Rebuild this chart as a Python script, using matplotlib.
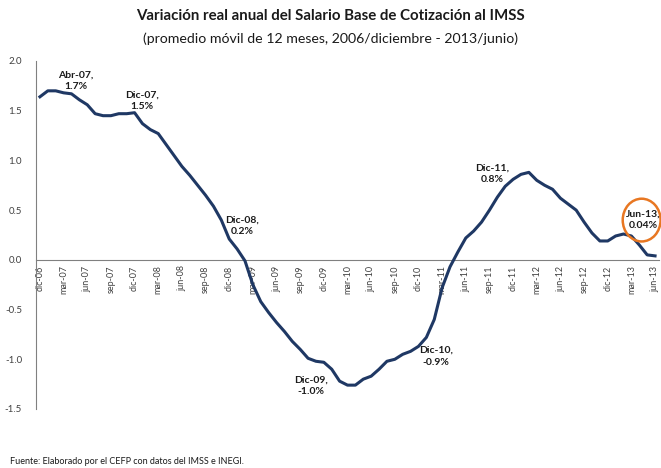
import matplotlib
matplotlib.use("Agg")
import matplotlib.pyplot as plt
from matplotlib.patches import Ellipse

plt.rcParams['font.family'] = ['Lato', 'DejaVu Sans']

# ---- data ----
months = ["dic", "ene", "feb", "mar", "abr", "may", "jun", "jul", "ago", "sep", "oct", "nov"]
start_year = 6
values = [1.64, 1.70, 1.70, 1.68, 1.67, 1.61, 1.56, 1.47, 1.45, 1.45, 1.47, 1.47,
          1.48, 1.37, 1.31, 1.27, 1.16, 1.05, 0.94, 0.85, 0.75, 0.65, 0.54, 0.40,
          0.21, 0.11, -0.01, -0.25, -0.42, -0.53, -0.63, -0.72, -0.82, -0.90, -0.99, -1.02,
          -1.03, -1.10, -1.22, -1.26, -1.26, -1.20, -1.17, -1.10, -1.02, -1.00, -0.95, -0.92,
          -0.87, -0.78, -0.60, -0.28, -0.07, 0.08, 0.22, 0.29, 0.38, 0.50, 0.63, 0.74,
          0.81, 0.86, 0.88, 0.80, 0.75, 0.71, 0.62, 0.56, 0.50, 0.38, 0.27, 0.19,
          0.19, 0.24, 0.26, 0.24, 0.15, 0.05, 0.04]

def label_for(i):
    m = months[i % 12]
    yr = start_year + (i + 11) // 12
    return f"{m}-{yr:02d}"

tick_idx = list(range(0, len(values), 3))
tick_labels = [label_for(i) for i in tick_idx]

y_ticks = [2.0, 1.5, 1.0, 0.5, 0.0, -0.5, -1.0, -1.5]

annotations = [
    (4, "Abr-07,\n1.7%"),
    (12, "Dic-07,\n1.5%"),
    (24, "Dic-08,\n0.2%"),
    (36, "Dic-09,\n-1.0%"),
    (48, "Dic-10,\n-0.9%"),
    (60, "Dic-11,\n0.8%"),
    (78, "Jun-13,\n0.04%"),
]
# label centre positions (data coords)
ann_pos = [(4.5, 1.80), (12.9, 1.60), (25.6, 0.34), (34.4, -1.27),
           (50.2, -0.97), (57.4, 0.87), (76.5, 0.40)]

# ---- figure ----
fig = plt.figure(figsize=(6.61, 4.68), dpi=100)
ax = fig.add_axes([36/661, 1-409/468, (659-36)/661, (409-61)/468])

x = list(range(len(values)))
ax.plot(x, values, color="#1F3864", lw=2.2, zorder=3, solid_joinstyle='round')

ax.set_xlim(-0.5, len(values) - 0.5)
ax.set_ylim(-1.5, 2.0)
ax.set_yticks(y_ticks)
ax.set_yticklabels([f"{v:.1f}" for v in y_ticks], fontsize=7, color="#404040")

ax.spines['top'].set_visible(False)
ax.spines['right'].set_visible(False)
ax.spines['left'].set_color("#808080")
ax.spines['left'].set_linewidth(0.8)
ax.spines['bottom'].set_position(('data', 0))
ax.spines['bottom'].set_color("#808080")
ax.spines['bottom'].set_linewidth(0.8)

ax.set_xticks(tick_idx)
ax.set_xticklabels(tick_labels, rotation=90, fontsize=6.5, color="#404040")
ax.tick_params(axis='x', length=0, pad=4)
ax.tick_params(axis='y', length=0, pad=10)

for (idx, txt), (px, py) in zip(annotations, ann_pos):
    ax.text(px, py, txt, ha='center', va='center', fontsize=7.5,
            fontweight='bold', color="#1a1a1a", linespacing=1.35, zorder=4)

# orange circle around last label
ell = Ellipse((76.3, 0.40), width=4.8, height=0.43, fill=False,
              edgecolor="#E87722", lw=1.8, zorder=5, clip_on=False)
ax.add_patch(ell)

fig.text(0.5, 1-16.5/468, "Variación real anual del Salario Base de Cotización al IMSS",
         ha='center', va='center', fontsize=10.8, fontweight='bold', color="#1a1a1a")
fig.text(0.5, 1-39/468, "(promedio móvil de 12 meses, 2006/diciembre - 2013/junio)",
         ha='center', va='center', fontsize=10.2, color="#1a1a1a")
fig.text(10/661, 1-462/468, "Fuente: Elaborado por el CEFP con datos del IMSS e INEGI.",
         ha='left', va='center', fontsize=6.5, color="#1a1a1a")

fig.savefig("out.png", dpi=100)
